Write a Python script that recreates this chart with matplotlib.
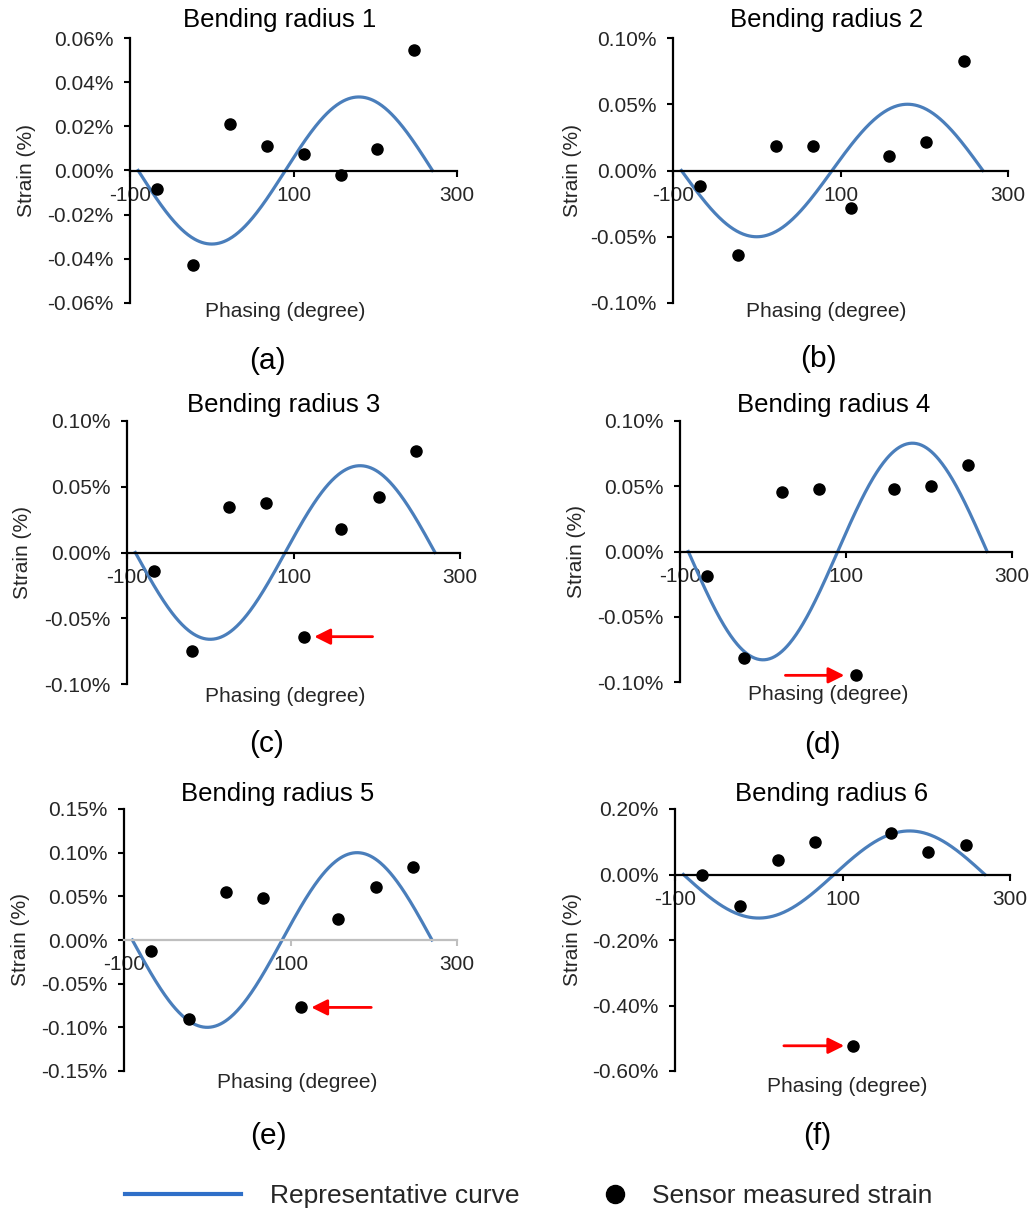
import matplotlib
matplotlib.use('Agg')
import matplotlib.pyplot as plt
from matplotlib.lines import Line2D
from matplotlib.ticker import FuncFormatter
import numpy as np

W, H = 1034, 1213

plt.rcParams['font.family'] = ['Liberation Sans', 'DejaVu Sans']
plt.rcParams['axes.unicode_minus'] = False

# sensor positions (degree) and measured strain (%) per bending radius
sensor_phase = [-67.5, -22.5, 22.5, 67.5, 112.5, 157.5, 202.5, 247.5]
strain_r1 = [-0.0085, -0.0429, 0.0212, 0.0111, 0.0075, -0.0020, 0.0099, 0.0544]
strain_r2 = [-0.0120, -0.0636, 0.0186, 0.0186, -0.0281, 0.0108, 0.0216, 0.0829]
strain_r3 = [-0.0144, -0.0752, 0.0347, 0.0377, -0.0640, 0.0175, 0.0425, 0.0775]
strain_r4 = [-0.0184, -0.0816, 0.0459, 0.0480, -0.0949, 0.0480, 0.0500, 0.0660]
strain_r5 = [-0.0126, -0.0902, 0.0550, 0.0478, -0.0772, 0.0237, 0.0612, 0.0841]
strain_r6 = [0.0000, -0.0967, 0.0438, 0.0998, -0.5230, 0.1280, 0.0680, 0.0916]
strains = [strain_r1, strain_r2, strain_r3, strain_r4, strain_r5, strain_r6]

# representative curve amplitude (%) per bending radius, phase range of curve
amplitudes = [0.0333, 0.050, 0.066, 0.083, 0.100, 0.133]
curve_start, curve_end = -90, 270

titles = ['Bending radius 1', 'Bending radius 2', 'Bending radius 3',
          'Bending radius 4', 'Bending radius 5', 'Bending radius 6']
letters = ['(a)', '(b)', '(c)', '(d)', '(e)', '(f)']
y_ranges = [(-0.06, 0.06, 0.02), (-0.10, 0.10, 0.05), (-0.10, 0.10, 0.05),
            (-0.10, 0.10, 0.05), (-0.15, 0.15, 0.05), (-0.60, 0.20, 0.20)]
x_ticks = [-100, 100, 300]

# outlier arrows: panel -> (tail phase, head phase)
arrows = {2: (195, 125), 3: (27, 98), 4: (197, 125), 5: (30, 102)}

# layout in pixels: axes box (left, right, top, bottom)
boxes = [(130, 457, 38, 303), (673, 1008, 38, 303),
         (127, 460, 421, 684), (680, 1012, 421, 682),
         (124, 457, 809, 1071), (675, 1010, 809, 1071)]
title_pos = [(280, 20), (827, 20), (284, 405), (834, 405), (278, 794), (832, 794)]
letter_pos = [(267, 361), (818, 359), (267, 744), (822, 745), (268, 1136), (817, 1136)]
xlabel_pos = [(285, 312), (826, 312), (285, 697), (828, 695), (297, 1083), (847, 1086)]
ylabel_x = [27, 573, 23, 577, 21, 573]

curve_color = '#4A7EBB'
text_color = '#262626'

fig = plt.figure(figsize=(W / 100, H / 100), dpi=100)


def fx(x):
    return x / W


def fy(y):
    return 1 - y / H


for i in range(6):
    l, r, t, b = boxes[i]
    ax = fig.add_axes([fx(l), fy(b), (r - l) / W, (b - t) / H])
    lo, hi, step = y_ranges[i]

    phase = np.linspace(curve_start, curve_end, 361)
    ax.plot(phase, -amplitudes[i] * np.cos(np.radians(phase)),
            color=curve_color, lw=2.3, zorder=2)
    ax.plot(sensor_phase, strains[i], 'o', color='black', markersize=8, zorder=3)

    if i in arrows:
        tail, head = arrows[i]
        yv = strains[i][4]
        ax.annotate('', xy=(head, yv), xytext=(tail, yv),
                    arrowprops=dict(arrowstyle='-|>', color='red', lw=2,
                                    mutation_scale=24, shrinkA=0, shrinkB=0))

    ax.set_xlim(-100, 300)
    ax.set_ylim(lo, hi)
    ax.set_xticks(x_ticks)
    ax.set_yticks(np.arange(lo, hi + step / 2, step))
    ax.yaxis.set_major_formatter(FuncFormatter(
        lambda v, p: '%.2f%%' % (0.0 if abs(v) < 1e-9 else v)))
    ax.xaxis.set_major_formatter(FuncFormatter(lambda v, p: '%d' % v))

    ax.spines['top'].set_visible(False)
    ax.spines['right'].set_visible(False)
    ax.spines['bottom'].set_position(('data', 0))
    ax.spines['left'].set_linewidth(1.6)
    ax.spines['bottom'].set_linewidth(1.6)
    axis_color = '#BFBFBF' if i == 4 else 'black'
    ax.spines['bottom'].set_color(axis_color)
    ax.tick_params(axis='y', direction='out', length=4, width=1.5,
                   labelsize=15, labelcolor=text_color, pad=8)
    ax.tick_params(axis='x', direction='out', length=4, width=1.5, color=axis_color,
                   labelsize=15, labelcolor=text_color, pad=7)
    ax.patch.set_alpha(0)

    fig.text(fx(title_pos[i][0]), fy(title_pos[i][1]), titles[i], fontsize=18.5,
             ha='center', va='center', color='black')
    fig.text(fx(letter_pos[i][0]), fy(letter_pos[i][1]), letters[i], fontsize=21.5,
             ha='center', va='center', color='black')
    fig.text(fx(xlabel_pos[i][0]), fy(xlabel_pos[i][1]), 'Phasing (degree)',
             fontsize=15, ha='center', va='center', color=text_color)
    fig.text(fx(ylabel_x[i]), fy((t + b) / 2), 'Strain (%)', fontsize=15,
             rotation=90, ha='center', va='center', color=text_color)

# legend along the bottom
h_curve = Line2D([], [], color='#2F6FC8', lw=3)
h_dot = Line2D([], [], ls='none', marker='o', color='black', markersize=13)
leg1 = fig.legend([h_curve], ['Representative curve'], loc='center left',
                  bbox_to_anchor=(fx(125), fy(1196)), frameon=False, fontsize=19,
                  handlelength=4.4, handletextpad=1.1, borderpad=0, borderaxespad=0)
leg2 = fig.legend([h_dot], ['Sensor measured strain'], loc='center left',
                  bbox_to_anchor=(fx(604), fy(1196)), frameon=False, fontsize=19,
                  handlelength=0.8, handletextpad=1.0, borderpad=0, borderaxespad=0)
for leg in (leg1, leg2):
    for txt in leg.get_texts():
        txt.set_color(text_color)

fig.savefig('out.png', dpi=100)
